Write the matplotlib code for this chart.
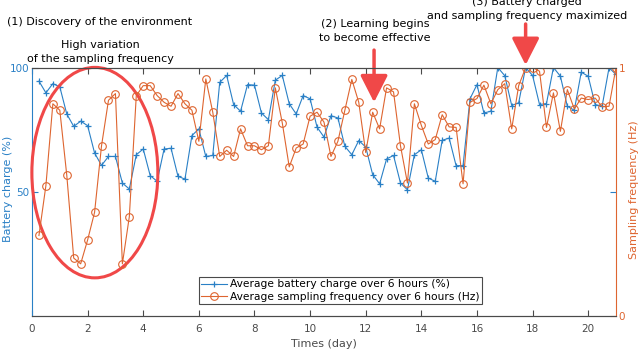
import numpy as np
from matplotlib import pyplot as plt
from matplotlib.patches import Ellipse

# time in days, one point every 6 hours
days = np.arange(1, 85) * 0.25

battery = [94.5, 89.8, 93.5, 92.2, 81.3, 76.3, 78.4, 76.6, 65.6, 60.6,
           64.2, 64.2, 53.5, 51.1, 64.9, 67.2, 56.5, 54.2, 67.2, 67.5,
           56.2, 55.1, 72.6, 75.3, 64.2, 64.6, 94.0, 96.8, 85.1, 82.4,
           93.1, 92.9, 81.7, 79.0, 94.9, 96.8, 85.4, 81.3, 88.7, 87.4,
           76.0, 72.0, 80.6, 79.7, 68.3, 64.9, 70.6, 68.0, 56.9, 53.2,
           63.2, 64.6, 53.5, 50.8, 64.9, 66.9, 55.5, 54.2, 70.7, 71.6,
           60.5, 60.5, 87.4, 93.1, 81.7, 82.4, 100.0, 96.7, 84.7, 85.8,
           100.0, 96.8, 85.1, 85.5, 100.0, 96.5, 84.4, 82.8, 98.1, 96.5,
           85.1, 84.4, 99.9, 97.2]

freq = [0.324, 0.525, 0.854, 0.828, 0.567, 0.233, 0.210, 0.306, 0.417, 0.685,
        0.868, 0.895, 0.210, 0.400, 0.887, 0.927, 0.927, 0.887, 0.860, 0.844,
        0.895, 0.854, 0.828, 0.703, 0.954, 0.820, 0.642, 0.667, 0.642, 0.753,
        0.685, 0.685, 0.669, 0.685, 0.918, 0.777, 0.600, 0.676, 0.692, 0.804,
        0.820, 0.780, 0.642, 0.703, 0.828, 0.952, 0.860, 0.658, 0.820, 0.753,
        0.918, 0.902, 0.685, 0.535, 0.854, 0.767, 0.692, 0.710, 0.810, 0.761,
        0.759, 0.532, 0.860, 0.875, 0.929, 0.854, 0.911, 0.935, 0.753, 0.927,
        0.999, 1.000, 0.985, 0.759, 0.898, 0.743, 0.911, 0.833, 0.877, 0.871,
        0.877, 0.842, 0.844, 1.000]

xticks = [0, 2, 4, 6, 8, 10, 12, 14, 16, 18, 20]
blue = '#2A80C6'
orange = '#DE6530'
red = '#F04848'
dark = '#4A4A4A'

plt.rcParams['font.family'] = 'DejaVu Sans'
fig = plt.figure(figsize=(6.42, 3.49), dpi=100)
W, H = 642, 349
ax = fig.add_axes([32 / W, 33 / H, 584 / W, 248.5 / H])
ax2 = ax.twinx()

l1, = ax.plot(days, battery, color=blue, marker='+', ms=5, lw=0.8,
              mew=0.9, label='Average battery charge over 6 hours (%)')
l2, = ax2.plot(days, freq, color=orange, marker='o', ms=5.5, lw=0.8,
               mfc='none', mew=0.8,
               label='Average sampling frequency over 6 hours (Hz)')

ax.set_xlim(0, 21)
ax.set_ylim(0, 100)
ax.set_yticks([50, 100])
ax.set_xticks(xticks)
ax2.set_ylim(0, 1)
ax2.set_yticks([0, 1])

ax.tick_params(axis='x', direction='in', top=True, colors=dark,
               labelsize=7.5, length=4, pad=6)
ax.tick_params(axis='y', direction='in', right=True, colors=blue,
               labelsize=7.5, length=4, pad=2)
ax2.tick_params(axis='y', direction='in', colors=orange,
                labelsize=7.5, length=4, pad=2)
for a in (ax, ax2):
    a.spines['top'].set_color(dark)
    a.spines['bottom'].set_color(dark)
ax.spines['left'].set_color(blue)
ax2.spines['left'].set_visible(False)
ax2.spines['right'].set_color(orange)
ax.spines['right'].set_visible(False)

ax.set_xlabel('Times (day)', fontsize=8, color=dark)
ax.xaxis.set_label_coords(0.5, -23 / 248.5, transform=ax.transAxes)
ax.set_ylabel('Battery charge (%)', fontsize=8, color=blue, va='center')
ax.yaxis.set_label_coords(-24 / 584, 0.51)
ax2.set_ylabel('Sampling frequency (Hz)', fontsize=8, color=orange,
               rotation=90, va='center')
ax2.yaxis.set_label_coords(1 + 18 / 584, 0.51)

# legend
leg = ax.legend(handles=[l1, l2], loc='lower left',
                bbox_to_anchor=(0.276, 0.026), fontsize=7.7, fancybox=False,
                edgecolor=dark, framealpha=1, borderpad=0.25,
                handlelength=2.4, handletextpad=0.3, labelspacing=0.2)
leg.get_frame().set_linewidth(0.8)
leg.set_zorder(5)

# annotations
ell = Ellipse((2.26, 57.7), 4.53, 84.7, fill=False, ec=red, lw=2.2,
              clip_on=False, zorder=4)
ax.add_patch(ell)

arrow = dict(arrowstyle='-|>,head_length=0.55,head_width=0.28',
             color=red, lw=2.5, mutation_scale=30, shrinkA=0, shrinkB=0)
ax.annotate('', xy=(12.3, 86), xytext=(12.3, 107), arrowprops=arrow,
            annotation_clip=False)
ax.annotate('', xy=(17.75, 101), xytext=(17.75, 117.5), arrowprops=arrow,
            annotation_clip=False)

fig.text(100 / W, 1 - 22 / H, '(1) Discovery of the environment',
         ha='center', va='center', fontsize=8)
fig.text(100 / W, 1 - 52 / H, 'High variation\nof the sampling frequency',
         ha='center', va='center', fontsize=8, linespacing=1.5)
fig.text(375 / W, 1 - 31 / H, '(2) Learning begins\nto become effective',
         ha='center', va='center', fontsize=8, linespacing=1.5)
fig.text(527 / W, 1 - 9 / H, '(3) Battery charged\nand sampling frequency maximized',
         ha='center', va='center', fontsize=8, linespacing=1.5)

fig.savefig('out.png', dpi=100)
